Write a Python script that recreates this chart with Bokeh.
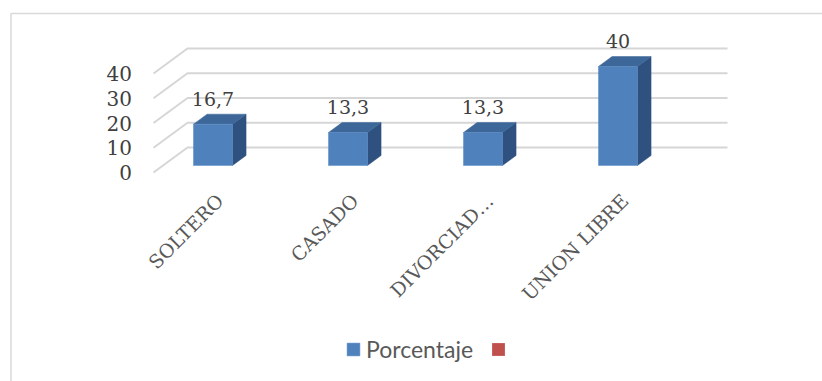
import math
from bokeh.plotting import figure
from bokeh.models import Range1d, Legend, LegendItem
from bokeh.core.properties import value
from bokeh.embed import file_html
from bokeh.resources import INLINE

# ---------------- data ----------------
categories = ["SOLTERO", "CASADO", "DIVORCIAD\u2026", "UNION LIBRE"]
porcentaje = [16.7, 13.3, 13.3, 40]
serie2 = [float("nan")] * 4   # second series: no values, shown only in legend
y_ticks = [0, 10, 20, 30, 40]
series_names = ["Porcentaje", "\u00a0"]

# ---------------- geometry / style ----------------
W, H = 822, 381
X0, SX = 220.5, 135.0      # px of category 0 (front plane), px per category
Y0, SY = 172.0, 2.475      # px (from top) of value 0 (front plane), px per unit
DX = 34.0 / SX             # full depth offset, x (category units)
DY = 25.0 / SY             # full depth offset, y (value units)
D0, D1 = 0.28, 0.68        # bar depth span
BW = 39.0 / SX             # bar width
BSHIFT = -0.13             # bar shift within slot
SERIF = "DejaVu Serif"
FRONT, TOP, SIDE = "#4F81BD", "#3D6798", "#2E5180"
GRID = "#D6D6D6"

def proj(x, v, d):
    return x + d * DX, v + d * DY

p = figure(width=W, height=H,
           x_range=Range1d((0 - X0) / SX, (W - X0) / SX),
           y_range=Range1d((Y0 - H) / SY, Y0 / SY),
           x_axis_location=None, y_axis_location=None,
           output_backend="svg", toolbar_location=None, min_border=0)
p.grid.visible = False
p.outline_line_color = None
p.background_fill_color = "white"
p.border_fill_color = "white"

# chart border (left + top)
bx = (10.5 - X0) / SX
by = (Y0 - 13.0) / SY
p.line([bx, bx, (W + 5 - X0) / SX], [(Y0 - H - 5) / SY, by, by],
       line_color="#D9D9D9", line_width=1.5)

# gridlines: side wall diagonals + back wall horizontals
n = len(categories)
gx, gy = [], []
for t in y_ticks:
    a = proj(-0.5, t, 0)
    b = proj(-0.5, t, 1)
    c = proj(n - 0.5, t, 1)
    gx.append([a[0], b[0], c[0]])
    gy.append([a[1], b[1], c[1]])
p.multi_line(gx, gy, line_color=GRID, line_width=2)

# tick labels
p.text(x=[-0.5 + (131.5 - 153.0) / SX] * len(y_ticks), y=y_ticks,
       text=[str(t) for t in y_ticks], text_align="right", text_baseline="middle",
       text_font=value(SERIF), text_font_size="20px", text_color="#404040")

# bars
fx, fy, tx, ty, sx_, sy_ = [], [], [], [], [], []
for i, v in enumerate(porcentaje):
    xl = i + BSHIFT - BW / 2
    xr = xl + BW
    f = [proj(xl, 0, D0), proj(xr, 0, D0), proj(xr, v, D0), proj(xl, v, D0)]
    t = [proj(xl, v, D0), proj(xr, v, D0), proj(xr, v, D1), proj(xl, v, D1)]
    s = [proj(xr, 0, D0), proj(xr, 0, D1), proj(xr, v, D1), proj(xr, v, D0)]
    fx.append([q[0] for q in f]); fy.append([q[1] for q in f])
    tx.append([q[0] for q in t]); ty.append([q[1] for q in t])
    sx_.append([q[0] for q in s]); sy_.append([q[1] for q in s])

p.patches(sx_, sy_, fill_color=SIDE, line_color=SIDE, line_width=0.5)
p.patches(tx, ty, fill_color=TOP, line_color=TOP, line_width=0.5)
r_front = p.patches(fx, fy, fill_color=FRONT, line_color="#5B8CC6", line_width=0.5)
xs2 = [i + BSHIFT for i in range(n)]
r_red = p.quad(left=xs2, right=xs2, top=serie2, bottom=[0] * n,
               fill_color="#C0504D", line_color=None)

# value labels (centre ~15 px above the back top edge of each bar)
p.text(x=[i + BSHIFT + D0 * DX for i in range(n)],
       y=[v + D1 * DY + 15.5 / SY for v in porcentaje],
       text=[("%g" % v).replace(".", ",") for v in porcentaje],
       text_align="center", text_baseline="middle",
       text_font=value(SERIF), text_font_size="19px", text_color="#404040")

# category labels
p.text(x=[i - 9.0 / SX for i in range(n)], y=[-(189.0 - Y0) / SY] * n, text=categories,
       angle=math.pi / 4, text_align="right", text_baseline="top",
       text_font=value(SERIF), text_font_size="19px", text_color="#595959")

legend = Legend(items=[LegendItem(label=series_names[0], renderers=[r_front]),
                       LegendItem(label=series_names[1], renderers=[r_red])],
                orientation="horizontal", location=(345, 18),
                padding=0, margin=0, spacing=17, label_standoff=5,
                glyph_width=16, glyph_height=16,
                border_line_color=None, background_fill_alpha=0,
                label_text_font="Lato", label_text_font_size="23px",
                label_text_color="#595959")
p.add_layout(legend)

open("out.html", "w").write(file_html(p, INLINE))
